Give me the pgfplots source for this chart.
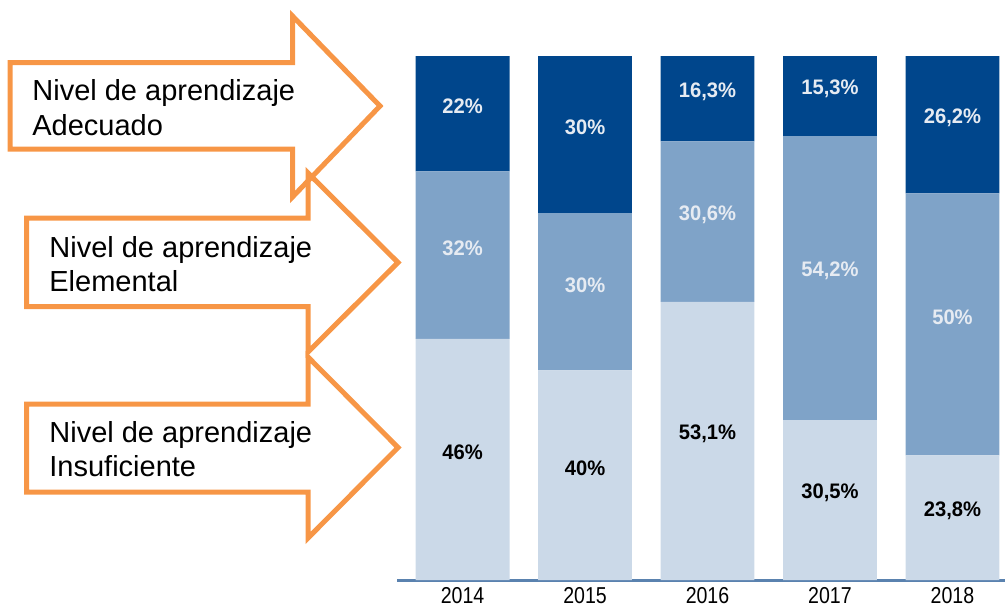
\documentclass[border=0pt]{standalone}
\usepackage{pgfplots}
\usepackage{pgfplotstable}
\usepackage{fontspec}
\setmainfont{Liberation Sans}
\pgfplotsset{compat=1.18}

\definecolor{adec}{HTML}{00468C}
\definecolor{elem}{HTML}{7FA3C8}
\definecolor{insu}{HTML}{CBD9E8}
\definecolor{flecha}{HTML}{F79646}
\definecolor{eje}{HTML}{5A82AF}
\definecolor{rotclaro}{HTML}{E6EBF2}

% porcentajes por nivel de aprendizaje
\pgfplotstableread{
x anio insu linsu elem lelem adec ladec
0 2014 46   46   32   32   22   22
1 2015 40   40   30   30   30   30
2 2016 53.1 53,1 30.6 30,6 16.3 16,3
3 2017 30.5 30,5 54.2 54,2 15.3 15,3
4 2018 23.8 23,8 50   50   26.2 26,2
}\datos

\begin{document}
\begin{tikzpicture}
\begin{axis}[
    at={(198.5pt,-290pt)}, anchor=south west,
    scale only axis, width=304pt, height=262pt,
    xmin=-0.535, xmax=4.429, ymin=0, ymax=100,
    ybar stacked, bar width=0.767,
    axis x line*=bottom, axis y line=none,
    x axis line style={eje, line width=1.5pt, -},
    xtick=data, xticklabels={2014,2015,2016,2017,2018},
    major tick length=0pt, ytick=\empty,
    xticklabel style={font=\fontsize{11.5}{12}\selectfont, xscale=0.85,
        anchor=base, inner sep=0pt, yshift=-11.5pt},
    point meta=explicit symbolic,
    nodes near coords={\pgfplotspointmeta\%},
    % los rotulos quedan en el centro de cada tramo; se suben un poco
    every node near coord/.append style={anchor=center, yshift=3.5pt,
        font=\bfseries\fontsize{10.5}{12}\selectfont, xscale=0.96},
]
\addplot[fill=insu, draw=none, nodes near coords style={text=black}]
    table[x=x, y=insu, meta=linsu]{\datos};
\addplot[fill=elem, draw=none, nodes near coords style={text=rotclaro}]
    table[x=x, y=elem, meta=lelem]{\datos};
\addplot[fill=adec, draw=none, nodes near coords style={text=rotclaro}]
    table[x=x, y=adec, meta=ladec]{\datos};
\end{axis}

% flechas de la izquierda (coordenadas en pixeles)
\begin{scope}[x=0.5pt, y=-0.5pt]
\draw[flecha, line width=2.5pt, line join=miter]
    (10,62.5) -- (292.5,62.5) -- (292.5,16) -- (380,106) -- (292.5,197) -- (292.5,149) -- (10,149) -- cycle;
\draw[flecha, line width=2.5pt, line join=miter]
    (26.5,218) -- (308,218) -- (308,173) -- (398,262.5) -- (308,352) -- (308,306.5) -- (26.5,306.5) -- cycle;
\draw[flecha, line width=2.5pt, line join=miter]
    (26.5,404) -- (308,404) -- (308,357) -- (398,447.5) -- (308,538) -- (308,492) -- (26.5,492) -- cycle;
\begin{scope}[every node/.style={anchor=base west, inner sep=0pt, text=black, font=\fontsize{14.5}{17}\selectfont}]
\node at (32,100.5) {Nivel de aprendizaje};
\node at (32,135) {Adecuado};
\node at (49,257) {Nivel de aprendizaje};
\node at (49,291.5) {Elemental};
\node at (49,442.5) {Nivel de aprendizaje};
\node at (49,476.5) {Insuficiente};
\end{scope}
\end{scope}

\pgfresetboundingbox
\path[use as bounding box] (0,0) rectangle (502.5pt,-303.5pt);
\end{tikzpicture}
\end{document}
